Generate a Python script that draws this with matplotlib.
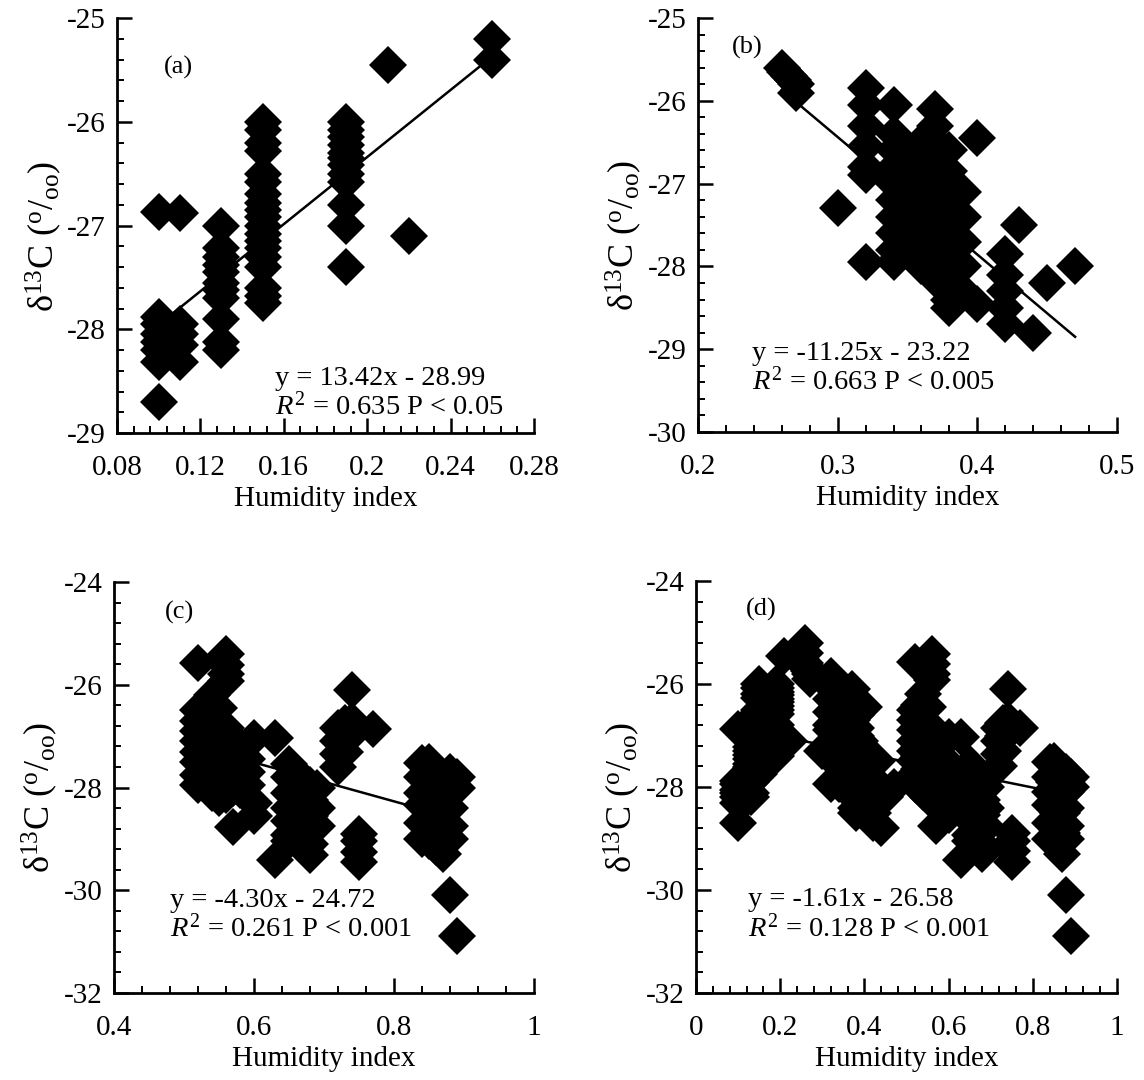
import matplotlib
matplotlib.use('Agg')
import matplotlib.pyplot as plt
from matplotlib.ticker import MultipleLocator, FuncFormatter

plt.rcParams['font.family'] = ['Liberation Serif', 'DejaVu Serif']
plt.rcParams['mathtext.fontset'] = 'custom'
plt.rcParams['mathtext.rm'] = 'Liberation Serif'
plt.rcParams['mathtext.it'] = 'Liberation Serif:italic'
plt.rcParams['mathtext.bf'] = 'Liberation Serif:bold'
plt.rcParams['axes.unicode_minus'] = False

# ---------------- data ----------------
# Panel (a)
a_x = [0.10]*8 + [0.11]*5 + [0.13]*11 + [0.15]*19 + [0.19]*12 + [0.21, 0.22, 0.26, 0.26]
a_y = [-26.87, -27.88, -27.95, -28.05, -28.12, -28.20, -28.32, -28.70,
       -26.88, -27.95, -28.05, -28.15, -28.32,
       -27.00, -27.22, -27.30, -27.38, -27.45, -27.55, -27.62, -27.70, -27.90, -28.12, -28.20,
       -26.00, -26.08, -26.20, -26.28, -26.50, -26.58, -26.70, -26.78, -26.85, -26.92,
       -27.00, -27.08, -27.15, -27.22, -27.30, -27.40, -27.60, -27.68, -27.75,
       -26.00, -26.08, -26.15, -26.22, -26.30, -26.35, -26.42, -26.50, -26.58, -26.80, -27.00, -27.40,
       -25.45, -27.10, -25.20, -25.40]
a_fit_x = [0.106, 0.26]
a_fit_y = [-27.86, -25.37]

# Panel (b)
b_x = ([0.260, 0.262, 0.265, 0.268, 0.270, 0.270, 0.30] + [0.32]*7 + [0.34]*10 + [0.35]*5
       + [0.36]*7 + [0.37]*11 + [0.38]*11 + [0.39]*5 + [0.40]*2 + [0.42]*5
       + [0.43, 0.44, 0.45, 0.47])
b_y = [-25.60, -25.65, -25.70, -25.75, -25.80, -25.90, -27.30,
       -25.85, -26.05, -26.30, -26.55, -26.80, -26.90, -27.95,
       -26.05, -26.40, -26.60, -26.80, -27.00, -27.20, -27.40, -27.60, -27.80, -27.95,
       -26.65, -27.00, -27.30, -27.50, -27.75,
       -26.50, -26.75, -27.00, -27.25, -27.50, -27.75, -28.00,
       -26.10, -26.30, -26.50, -26.70, -26.90, -27.10, -27.30, -27.50, -27.70, -27.90, -28.15,
       -26.60, -26.85, -27.00, -27.20, -27.40, -27.60, -27.80, -28.00, -28.20, -28.40, -28.50,
       -27.10, -27.40, -27.70, -28.00, -28.30,
       -26.45, -28.45,
       -27.85, -28.10, -28.30, -28.50, -28.70,
       -27.50, -28.80, -28.20, -28.00]
b_fit_x = [0.26, 0.47]
b_fit_y = [-25.87, -28.85]

# Panel (c)
c_x = ([0.52]*9 + [0.53]*7 + [0.54]*8 + [0.55]*7 + [0.56]*9 + [0.57]*5 + [0.58]*4
       + [0.59]*3 + [0.60]*3 + [0.63]*2 + [0.65]*7 + [0.66]*3 + [0.68]*6 + [0.69]*3
       + [0.72]*4 + [0.73]*3 + [0.74]*3 + [0.75]*4 + [0.77] + [0.84]*6 + [0.85]*5
       + [0.86]*4 + [0.87]*3 + [0.88]*7 + [0.89]*3)
c_y = [-25.57, -26.50, -26.70, -26.90, -27.10, -27.30, -27.50, -27.75, -27.95,
       -26.40, -26.65, -26.90, -27.15, -27.40, -27.65, -27.85,
       -26.20, -26.50, -26.75, -27.00, -27.30, -27.60, -27.90, -28.10,
       -26.45, -26.80, -27.10, -27.40, -27.70, -28.00, -28.20,
       -25.41, -25.62, -25.80, -25.92, -26.85, -27.25, -27.60, -27.95, -28.15,
       -27.10, -27.40, -27.70, -28.00, -28.76,
       -27.20, -27.50, -27.80, -28.05,
       -27.45, -27.70, -27.95,
       -27.03, -28.30, -28.55,
       -27.03, -29.41,
       -27.55, -27.80, -28.10, -28.40, -28.65, -28.93, -29.05,
       -27.70, -28.00, -28.30,
       -27.95, -28.25, -28.55, -28.85, -29.10, -29.31,
       -28.00, -28.40, -28.75,
       -26.85, -27.10, -27.35, -27.60,
       -26.75, -27.00, -27.30,
       -26.10, -26.70, -26.95,
       -28.90, -29.05, -29.25, -29.45,
       -26.86,
       -27.52, -27.80, -28.10, -28.35, -28.70, -29.00,
       -27.50, -27.90, -28.30, -28.65, -29.05,
       -28.20, -28.50, -28.85, -29.15,
       -28.50, -28.90, -29.30,
       -27.70, -27.86, -28.10, -28.40, -28.75, -29.00, -30.10,
       -27.80, -28.00, -30.90]
c_fit_x = [0.52, 0.89]
c_fit_y = [-27.21, -28.61]

# Panel (d): all samples together
d_x = a_x + b_x + c_x
d_y = a_y + b_y + c_y
d_fit_x = [0.10, 0.89]
d_fit_y = [-26.85, -28.16]

labels = ['(a)', '(b)', '(c)', '(d)']
eq_lines = [('y = 13.42x - 28.99', r'$R^2$ = 0.635 P < 0.05'),
            ('y = -11.25x - 23.22', r'$R^2$ = 0.663 P < 0.005'),
            ('y = -4.30x - 24.72', r'$R^2$ = 0.261 P < 0.001'),
            ('y = -1.61x - 26.58', r'$R^2$ = 0.128 P < 0.001')]

xlabel = 'Humidity index'
ylabel = 'δ$^{13}$C ($^{\\rm o}$/$_{\\rm oo}$)'

# ---------------- layout ----------------
W, H = 1144, 1080
fig = plt.figure(figsize=(W / 100, H / 100), dpi=100)

boxes = [(117, 534, 18, 433), (698, 1117, 18, 432), (114, 534, 582, 993), (696, 1117, 581, 993)]
axes_cfg = [
    dict(xlim=(0.08, 0.28), ylim=(-29, -25), xmaj=0.04, xmin=0.008, ymaj=1, ymin=0.2,
         lab=(0.1097, -25.48), eq=(0.1558, -28.47, -28.74)),
    dict(xlim=(0.2, 0.5), ylim=(-30, -25), xmaj=0.1, xmin=0.02, ymaj=1, ymin=0.2,
         lab=(0.235, -25.36), eq=(0.239, -29.05, -29.39)),
    dict(xlim=(0.4, 1.0), ylim=(-32, -24), xmaj=0.2, xmin=0.04, ymaj=2, ymin=0.4,
         lab=(0.494, -24.59), eq=(0.48, -30.2, -30.75)),
    dict(xlim=(0.0, 1.0), ylim=(-32, -24), xmaj=0.2, xmin=0.04, ymaj=2, ymin=0.4,
         lab=(0.155, -24.55), eq=(0.123, -30.19, -30.74)),
]
data = [(a_x, a_y, a_fit_x, a_fit_y), (b_x, b_y, b_fit_x, b_fit_y),
        (c_x, c_y, c_fit_x, c_fit_y), (d_x, d_y, d_fit_x, d_fit_y)]

fmt = FuncFormatter(lambda v, p: '%g' % round(v, 6))

for i, ((l, r, t, b), cfg, (xs, ys, fx, fy)) in enumerate(zip(boxes, axes_cfg, data)):
    ax = fig.add_axes([l / W, 1 - b / H, (r - l) / W, (b - t) / H])
    ax.plot(xs, ys, ls='none', marker='D', ms=19, color='black', mew=0, clip_on=False)
    ax.plot(fx, fy, color='black', lw=1.8)
    ax.set_xlim(*cfg['xlim'])
    ax.set_ylim(*cfg['ylim'])
    ax.xaxis.set_major_locator(MultipleLocator(cfg['xmaj']))
    ax.xaxis.set_minor_locator(MultipleLocator(cfg['xmin']))
    ax.yaxis.set_major_locator(MultipleLocator(cfg['ymaj']))
    ax.yaxis.set_minor_locator(MultipleLocator(cfg['ymin']))
    ax.xaxis.set_major_formatter(fmt)
    ax.yaxis.set_major_formatter(fmt)
    for s in ['top', 'right']:
        ax.spines[s].set_visible(False)
    for s in ['left', 'bottom']:
        ax.spines[s].set_linewidth(2.0)
    ax.tick_params(which='major', direction='in', length=11, width=1.8, labelsize=21)
    ax.tick_params(which='minor', direction='in', length=5, width=1.4)
    ax.tick_params(axis='x', which='major', pad=16)
    ax.tick_params(axis='y', which='major', pad=8)
    ax.set_xlabel(xlabel, fontsize=21)
    ax.set_ylabel(ylabel, fontsize=26)
    ax.xaxis.set_label_coords(0.5, -0.128)
    ax.yaxis.set_label_coords(-0.128, 0.475)
    lx, ly = cfg['lab']
    ax.text(lx, ly, labels[i], fontsize=19, ha='center', va='center')
    ex, ey1, ey2 = cfg['eq']
    ax.text(ex, ey1, eq_lines[i][0], fontsize=20.5, ha='left', va='center')
    ax.text(ex, ey2, eq_lines[i][1], fontsize=20.5, ha='left', va='center')

fig.savefig('out.png', dpi=100)
